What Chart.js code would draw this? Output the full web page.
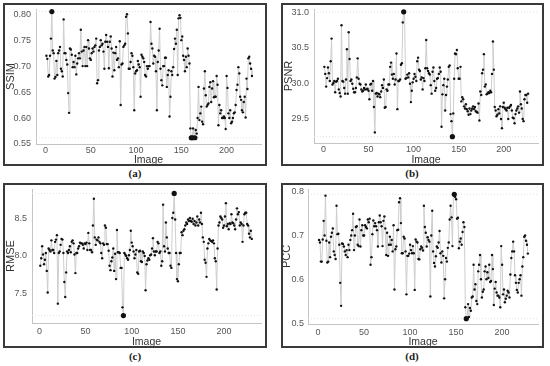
<!DOCTYPE html>
<html>
<head>
<meta charset="utf-8">
<script src="https://cdn.jsdelivr.net/npm/chart.js@4.4.0/dist/chart.umd.min.js"></script>
<style>
  body { margin: 0; background: #fff; width: 550px; height: 366px; position: relative; overflow: hidden; }
  .panel { position: absolute; border: 2px solid #3a3a3a; box-sizing: border-box; background: #fff; }
  .panel canvas { display: block; }
  .cap { position: absolute; width: 40px; text-align: center; font-family: "Liberation Serif", "DejaVu Serif", serif; font-weight: bold; font-size: 11px; color: #222; }
</style>
</head>
<body>
<div class="panel" style="left:3px;top:3px;width:264px;height:163px"><canvas id="chartA" width="260" height="159"></canvas></div>
<div class="panel" style="left:281px;top:3px;width:263px;height:163px"><canvas id="chartB" width="259" height="159"></canvas></div>
<div class="panel" style="left:3px;top:183px;width:264px;height:165px"><canvas id="chartC" width="260" height="161"></canvas></div>
<div class="panel" style="left:281px;top:183px;width:263px;height:165px"><canvas id="chartD" width="259" height="161"></canvas></div>
<div class="cap" style="left:115px;top:167px">(a)</div>
<div class="cap" style="left:392px;top:167px">(b)</div>
<div class="cap" style="left:115px;top:350px">(c)</div>
<div class="cap" style="left:392px;top:350px">(d)</div>

<script>
// values per image (image index = position + 1)
const ssim = [
  0.72, 0.714, 0.68, 0.683, 0.72, 0.753, 0.805, 0.73, 0.725, 0.676,
  0.679, 0.71, 0.683, 0.725, 0.73, 0.737, 0.695, 0.69, 0.68, 0.79,
  0.725, 0.725, 0.712, 0.703, 0.648, 0.61, 0.734, 0.732, 0.722, 0.698,
  0.708, 0.698, 0.72, 0.684, 0.705, 0.715, 0.725, 0.715, 0.77, 0.728,
  0.70, 0.73, 0.737, 0.70, 0.737, 0.70, 0.75, 0.734, 0.715, 0.712,
  0.725, 0.734, 0.728, 0.737, 0.74, 0.753, 0.667, 0.673, 0.73, 0.737,
  0.75, 0.74, 0.743, 0.728, 0.695, 0.747, 0.76, 0.747, 0.737, 0.696,
  0.747, 0.757, 0.734, 0.68, 0.726, 0.692, 0.725, 0.737, 0.712, 0.715,
  0.698, 0.748, 0.625, 0.703, 0.705, 0.737, 0.74, 0.743, 0.795, 0.80,
  0.763, 0.695, 0.695, 0.708, 0.725, 0.72, 0.698, 0.615, 0.686, 0.69,
  0.692, 0.71, 0.703, 0.698, 0.641, 0.722, 0.718, 0.715, 0.708, 0.683,
  0.68, 0.70, 0.695, 0.70, 0.70, 0.785, 0.743, 0.734, 0.705, 0.72,
  0.718, 0.69, 0.615, 0.708, 0.73, 0.772, 0.695, 0.673, 0.663, 0.70,
  0.70, 0.716, 0.716, 0.66, 0.683, 0.692, 0.603, 0.641, 0.69, 0.683,
  0.698, 0.733, 0.753, 0.743, 0.77, 0.683, 0.792, 0.798, 0.793, 0.75,
  0.757, 0.72, 0.712, 0.69, 0.718, 0.698, 0.734, 0.72, 0.705, 0.58,
  0.562, 0.562, 0.58, 0.563, 0.562, 0.577, 0.57, 0.60, 0.66, 0.596,
  0.609, 0.622, 0.593, 0.588, 0.657, 0.69, 0.644, 0.622, 0.625, 0.628,
  0.66, 0.669, 0.631, 0.657, 0.671, 0.64, 0.641, 0.641, 0.681, 0.664,
  0.586, 0.625, 0.609, 0.615, 0.60, 0.60, 0.603, 0.60, 0.579, 0.681,
  0.658, 0.609, 0.60, 0.615, 0.59, 0.593, 0.60, 0.609, 0.611, 0.625,
  0.654, 0.664, 0.698, 0.686, 0.641, 0.635, 0.615, 0.611, 0.631, 0.641,
  0.601, 0.676, 0.656, 0.715, 0.718, 0.705, 0.695, 0.681
];

const psnr = [
  30.23, 30.13, 29.95, 30.07, 30.22, 30.14, 30.03, 30.31, 30.63, 29.98,
  30.0, 30.03, 29.87, 30.02, 30.03, 30.06, 29.91, 29.86, 29.81, 30.82,
  30.03, 30.02, 29.93, 29.85, 30.05, 30.48, 29.85, 30.72, 30.34, 30.03,
  30.05, 29.99, 29.92, 29.87, 29.87, 29.93, 30.08, 30.35, 30.06, 29.99,
  29.98, 29.91, 29.88, 29.89, 29.93, 29.91, 29.98, 29.91, 29.92, 29.89,
  29.77, 29.98, 29.99, 29.89, 30.03, 29.66, 29.3, 29.85, 29.86, 29.81,
  29.85, 29.84, 29.8, 29.88, 29.97, 29.93, 30.05, 29.65, 29.66, 29.91,
  29.89, 29.98, 29.98, 30.23, 30.29, 30.12, 30.06, 30.13, 29.98, 30.05,
  30.42, 29.63, 30.03, 30.03, 30.05, 30.26, 30.28, 30.86, 31.01, 31.0,
  30.06, 30.07, 30.12, 30.08, 30.14, 29.99, 29.73, 29.89, 30.01, 30.06,
  30.13, 30.09, 30.03, 30.31, 30.36, 30.19, 30.17, 30.05, 30.08, 29.91,
  30.07, 30.03, 30.21, 30.61, 30.21, 30.17, 30.14, 30.12, 29.97, 29.85,
  30.16, 30.22, 30.03, 29.89, 29.93, 30.06, 30.07, 30.13, 30.22, 30.16,
  29.38, 29.84, 29.97, 30.06, 29.61, 29.83, 29.95, 30.05, 30.23, 30.25,
  29.56, 29.46, 29.24, 29.57, 30.06, 30.42, 30.41, 30.47, 30.21, 30.06,
  30.06, 30.23, 29.74, 29.8, 29.77, 29.67, 29.64, 29.7, 29.63, 29.6,
  29.55, 29.64, 29.56, 29.61, 29.64, 29.67, 29.63, 29.66, 29.6, 29.59,
  29.58, 29.71, 29.47, 29.88, 29.83, 30.14, 30.19, 30.41, 29.95, 29.98,
  29.84, 29.85, 29.87, 29.86, 29.89, 29.87, 30.13, 30.59, 30.19, 29.66,
  29.61, 29.53, 29.55, 29.63, 29.57, 29.67, 29.49, 29.36, 29.66, 29.72,
  29.65, 29.63, 29.61, 29.65, 29.49, 29.65, 29.67, 29.69, 29.61, 29.51,
  29.5, 29.43, 29.56, 29.61, 29.64, 29.67, 29.58, 29.88, 29.7, 29.64,
  29.49, 29.46, 29.77, 29.83, 29.83, 29.72, 29.85
];

const rmse = [
  7.87, 7.97, 8.13, 8.02, 7.89, 7.95, 8.04, 7.8, 7.51, 8.10,
  8.08, 8.06, 8.21, 8.08, 8.08, 8.04, 8.19, 8.22, 8.28, 7.36,
  8.04, 8.06, 8.15, 8.23, 8.22, 8.04, 7.65, 7.45, 7.78, 8.06,
  8.04, 8.08, 8.13, 8.05, 8.19, 8.21, 8.17, 8.02, 7.77, 8.04,
  8.04, 8.10, 8.13, 8.18, 8.17, 8.17, 8.15, 8.10, 8.17, 8.16,
  8.18, 8.08, 8.31, 8.17, 8.08, 8.08, 8.05, 8.41, 8.77, 8.25,
  8.15, 8.22, 8.21, 8.25, 8.19, 8.17, 8.04, 7.97, 8.17, 8.15,
  8.41, 8.38, 8.16, 8.16, 8.07, 7.87, 7.81, 7.93, 7.98, 8.10,
  7.8, 8.03, 7.69, 8.35, 8.05, 8.05, 8.04, 7.84, 7.84, 7.31,
  7.2, 8.04, 8.02, 8.0, 7.97, 7.95, 8.01, 8.08, 8.34, 8.18,
  8.13, 8.06, 7.97, 8.02, 8.08, 7.78, 7.76, 8.06, 8.07, 7.93,
  7.92, 8.06, 8.04, 8.0, 7.54, 7.89, 7.94, 7.97, 7.95, 8.01,
  8.02, 8.10, 8.24, 8.06, 8.01, 8.06, 8.06, 8.19, 8.17, 8.04,
  8.06, 7.87, 7.93, 8.69, 8.13, 8.06, 8.45, 8.25, 8.10, 8.04,
  8.04, 7.87, 7.84, 8.51, 8.58, 8.84, 8.49, 8.04, 7.69, 7.66,
  7.89, 8.04, 8.04, 8.32, 8.28, 8.34, 8.36, 8.41, 8.45, 8.43,
  8.49, 8.47, 8.51, 8.47, 8.46, 8.5, 8.43, 8.47, 8.41, 8.45,
  8.53, 8.41, 8.49, 8.45, 8.58, 8.43, 8.25, 8.19, 7.95, 7.91,
  7.72, 8.10, 8.17, 8.23, 8.21, 8.2, 8.19, 8.21, 8.17, 7.97,
  7.93, 7.55, 8.10, 8.41, 8.45, 8.53, 8.51, 8.49, 8.38, 8.41,
  8.53, 8.71, 8.4, 8.43, 8.36, 8.44, 8.43, 8.56, 8.45, 8.44,
  8.41, 8.36, 8.49, 8.64, 8.56, 8.59, 8.41, 8.45, 8.43, 8.19,
  8.41, 8.56, 8.58, 8.58, 8.43, 8.41, 8.3, 8.25, 8.34, 8.23
];

const pcc = [
  0.69, 0.684, 0.641, 0.641, 0.691, 0.733, 0.70, 0.79, 0.688, 0.639,
  0.641, 0.684, 0.651, 0.697, 0.706, 0.716, 0.664, 0.656, 0.647, 0.767,
  0.703, 0.704, 0.679, 0.593, 0.541, 0.682, 0.681, 0.675, 0.664, 0.656,
  0.667, 0.651, 0.679, 0.667, 0.69, 0.70, 0.712, 0.749, 0.667, 0.70,
  0.719, 0.721, 0.679, 0.676, 0.736, 0.675, 0.712, 0.723, 0.70, 0.70,
  0.723, 0.719, 0.716, 0.736, 0.73, 0.738, 0.634, 0.651, 0.703, 0.734,
  0.721, 0.728, 0.721, 0.712, 0.675, 0.73, 0.745, 0.73, 0.721, 0.676,
  0.733, 0.743, 0.716, 0.656, 0.706, 0.654, 0.679, 0.697, 0.679, 0.69,
  0.664, 0.723, 0.578, 0.669, 0.675, 0.712, 0.713, 0.775, 0.784, 0.728,
  0.66, 0.66, 0.697, 0.693, 0.664, 0.567, 0.654, 0.654, 0.659, 0.679,
  0.667, 0.66, 0.676, 0.66, 0.577, 0.691, 0.686, 0.684, 0.647, 0.646,
  0.669, 0.675, 0.672, 0.666, 0.767, 0.719, 0.706, 0.675, 0.696, 0.69,
  0.686, 0.562, 0.70, 0.756, 0.664, 0.638, 0.63, 0.653, 0.675, 0.672,
  0.684, 0.71, 0.66, 0.639, 0.664, 0.654, 0.558, 0.601, 0.649, 0.641,
  0.672, 0.684, 0.736, 0.767, 0.741, 0.676, 0.792, 0.793, 0.787, 0.782,
  0.738, 0.74, 0.671, 0.686, 0.693, 0.679, 0.708, 0.73, 0.719, 0.538,
  0.512, 0.513, 0.545, 0.516, 0.536, 0.53, 0.56, 0.562, 0.634, 0.578,
  0.59, 0.552, 0.545, 0.619, 0.634, 0.656, 0.601, 0.56, 0.573, 0.578,
  0.619, 0.63, 0.601, 0.617, 0.604, 0.634, 0.595, 0.597, 0.656, 0.624,
  0.543, 0.58, 0.595, 0.571, 0.564, 0.564, 0.56, 0.538, 0.676, 0.634,
  0.567, 0.578, 0.549, 0.557, 0.564, 0.575, 0.571, 0.56, 0.612, 0.649,
  0.664, 0.686, 0.664, 0.61, 0.593, 0.577, 0.571, 0.593, 0.601, 0.61,
  0.564, 0.63, 0.651, 0.697, 0.70, 0.688, 0.679, 0.659
];

const xTicks = [0, 50, 100, 150, 200];

function makeChart(id, values, name, cfg) {
  const ctx = document.getElementById(id).getContext("2d");
  const pts = values.map((v, i) => ({ x: i + 1, y: v }));
  const hi = Math.max(...values);
  const lo = Math.min(...values);
  const radii = values.map((v) => (v === hi || v === lo ? 2.6 : 1.2));
  // faint dotted lines at the best and worst value
  const refLine = (y) => ({
    data: [{ x: cfg.xMin, y: y }, { x: cfg.xMax, y: y }],
    borderColor: "#e2e2e2",
    borderWidth: 1,
    borderDash: [1, 2],
    pointRadius: 0,
    order: 2,
  });

  return new Chart(ctx, {
    type: "line",
    data: {
      datasets: [
        refLine(hi),
        refLine(lo),
        {
          label: name,
          data: pts,
          borderColor: "#cdcdcd",
          borderWidth: 1,
          pointRadius: radii,
          pointBackgroundColor: "#111",
          pointBorderColor: "#111",
          pointBorderWidth: 0,
          tension: 0,
          order: 1,
        },
      ],
    },
    options: {
      responsive: false,
      animation: false,
      layout: { padding: { top: cfg.padTop, right: cfg.padRight, left: 0, bottom: 0 } },
      plugins: { legend: { display: false }, tooltip: { enabled: false } },
      scales: {
        x: {
          type: "linear",
          min: cfg.xMin,
          max: cfg.xMax,
          grid: { display: false, drawTicks: false },
          border: { color: "#c4c4c4" },
          afterFit: (s) => { s.height = cfg.xH; s.paddingLeft = 0; s.paddingRight = 0; },
          afterBuildTicks: (s) => { s.ticks = xTicks.map((v) => ({ value: v })); },
          ticks: { padding: cfg.xPad, color: "#555", font: { family: "Liberation Sans", size: 9 }, maxRotation: 0 },
          title: { display: true, text: "Image", color: "#333", padding: { top: 0, bottom: -1 }, font: { family: "Liberation Sans", size: 10.5, lineHeight: 1 } },
        },
        y: {
          min: cfg.yMin,
          max: cfg.yMax,
          grid: { display: false, drawTicks: false },
          border: { color: "#c4c4c4" },
          afterFit: (s) => { s.width = cfg.yW; s.paddingTop = 0; s.paddingBottom = 0; },
          ticks: {
            stepSize: cfg.step,
            includeBounds: false,
            padding: cfg.yPad,
            color: "#555",
            font: { family: "Liberation Sans", size: 9 },
            callback: (v) => v.toFixed(cfg.dec),
          },
          title: { display: true, text: name, color: "#333", padding: { top: cfg.titlePad, bottom: 0 }, font: { family: "Liberation Sans", size: 11, lineHeight: 1 } },
        },
      },
    },
  });
}

document.addEventListener("DOMContentLoaded", function () {
  makeChart("chartA", ssim, "SSIM", { xMin: -10.5, xMax: 238, yMin: 0.55, yMax: 0.81, step: 0.05, dec: 2, yW: 31, xH: 20, padTop: 4, padRight: 2, yPad: 5, xPad: 1, titlePad: 0 });
  makeChart("chartB", psnr, "PSNR", { xMin: -10.5, xMax: 238, yMin: 29.15, yMax: 31.05, step: 0.5, dec: 1, yW: 31, xH: 21, padTop: 4, padRight: 2, yPad: 5, xPad: 1, titlePad: 0 });
  makeChart("chartC", rmse, "RMSE", { xMin: -8, xMax: 240, yMin: 7.1, yMax: 8.9, step: 0.5, dec: 1, yW: 27, xH: 23, padTop: 3, padRight: 2, yPad: 5, xPad: 3, titlePad: 0 });
  makeChart("chartD", pcc, "PCC", { xMin: -11, xMax: 239, yMin: 0.5, yMax: 0.805, step: 0.1, dec: 1, yW: 25, xH: 22, padTop: 3, padRight: 1, yPad: 4, xPad: 3, titlePad: -2 });
});
</script>
</body>
</html>
